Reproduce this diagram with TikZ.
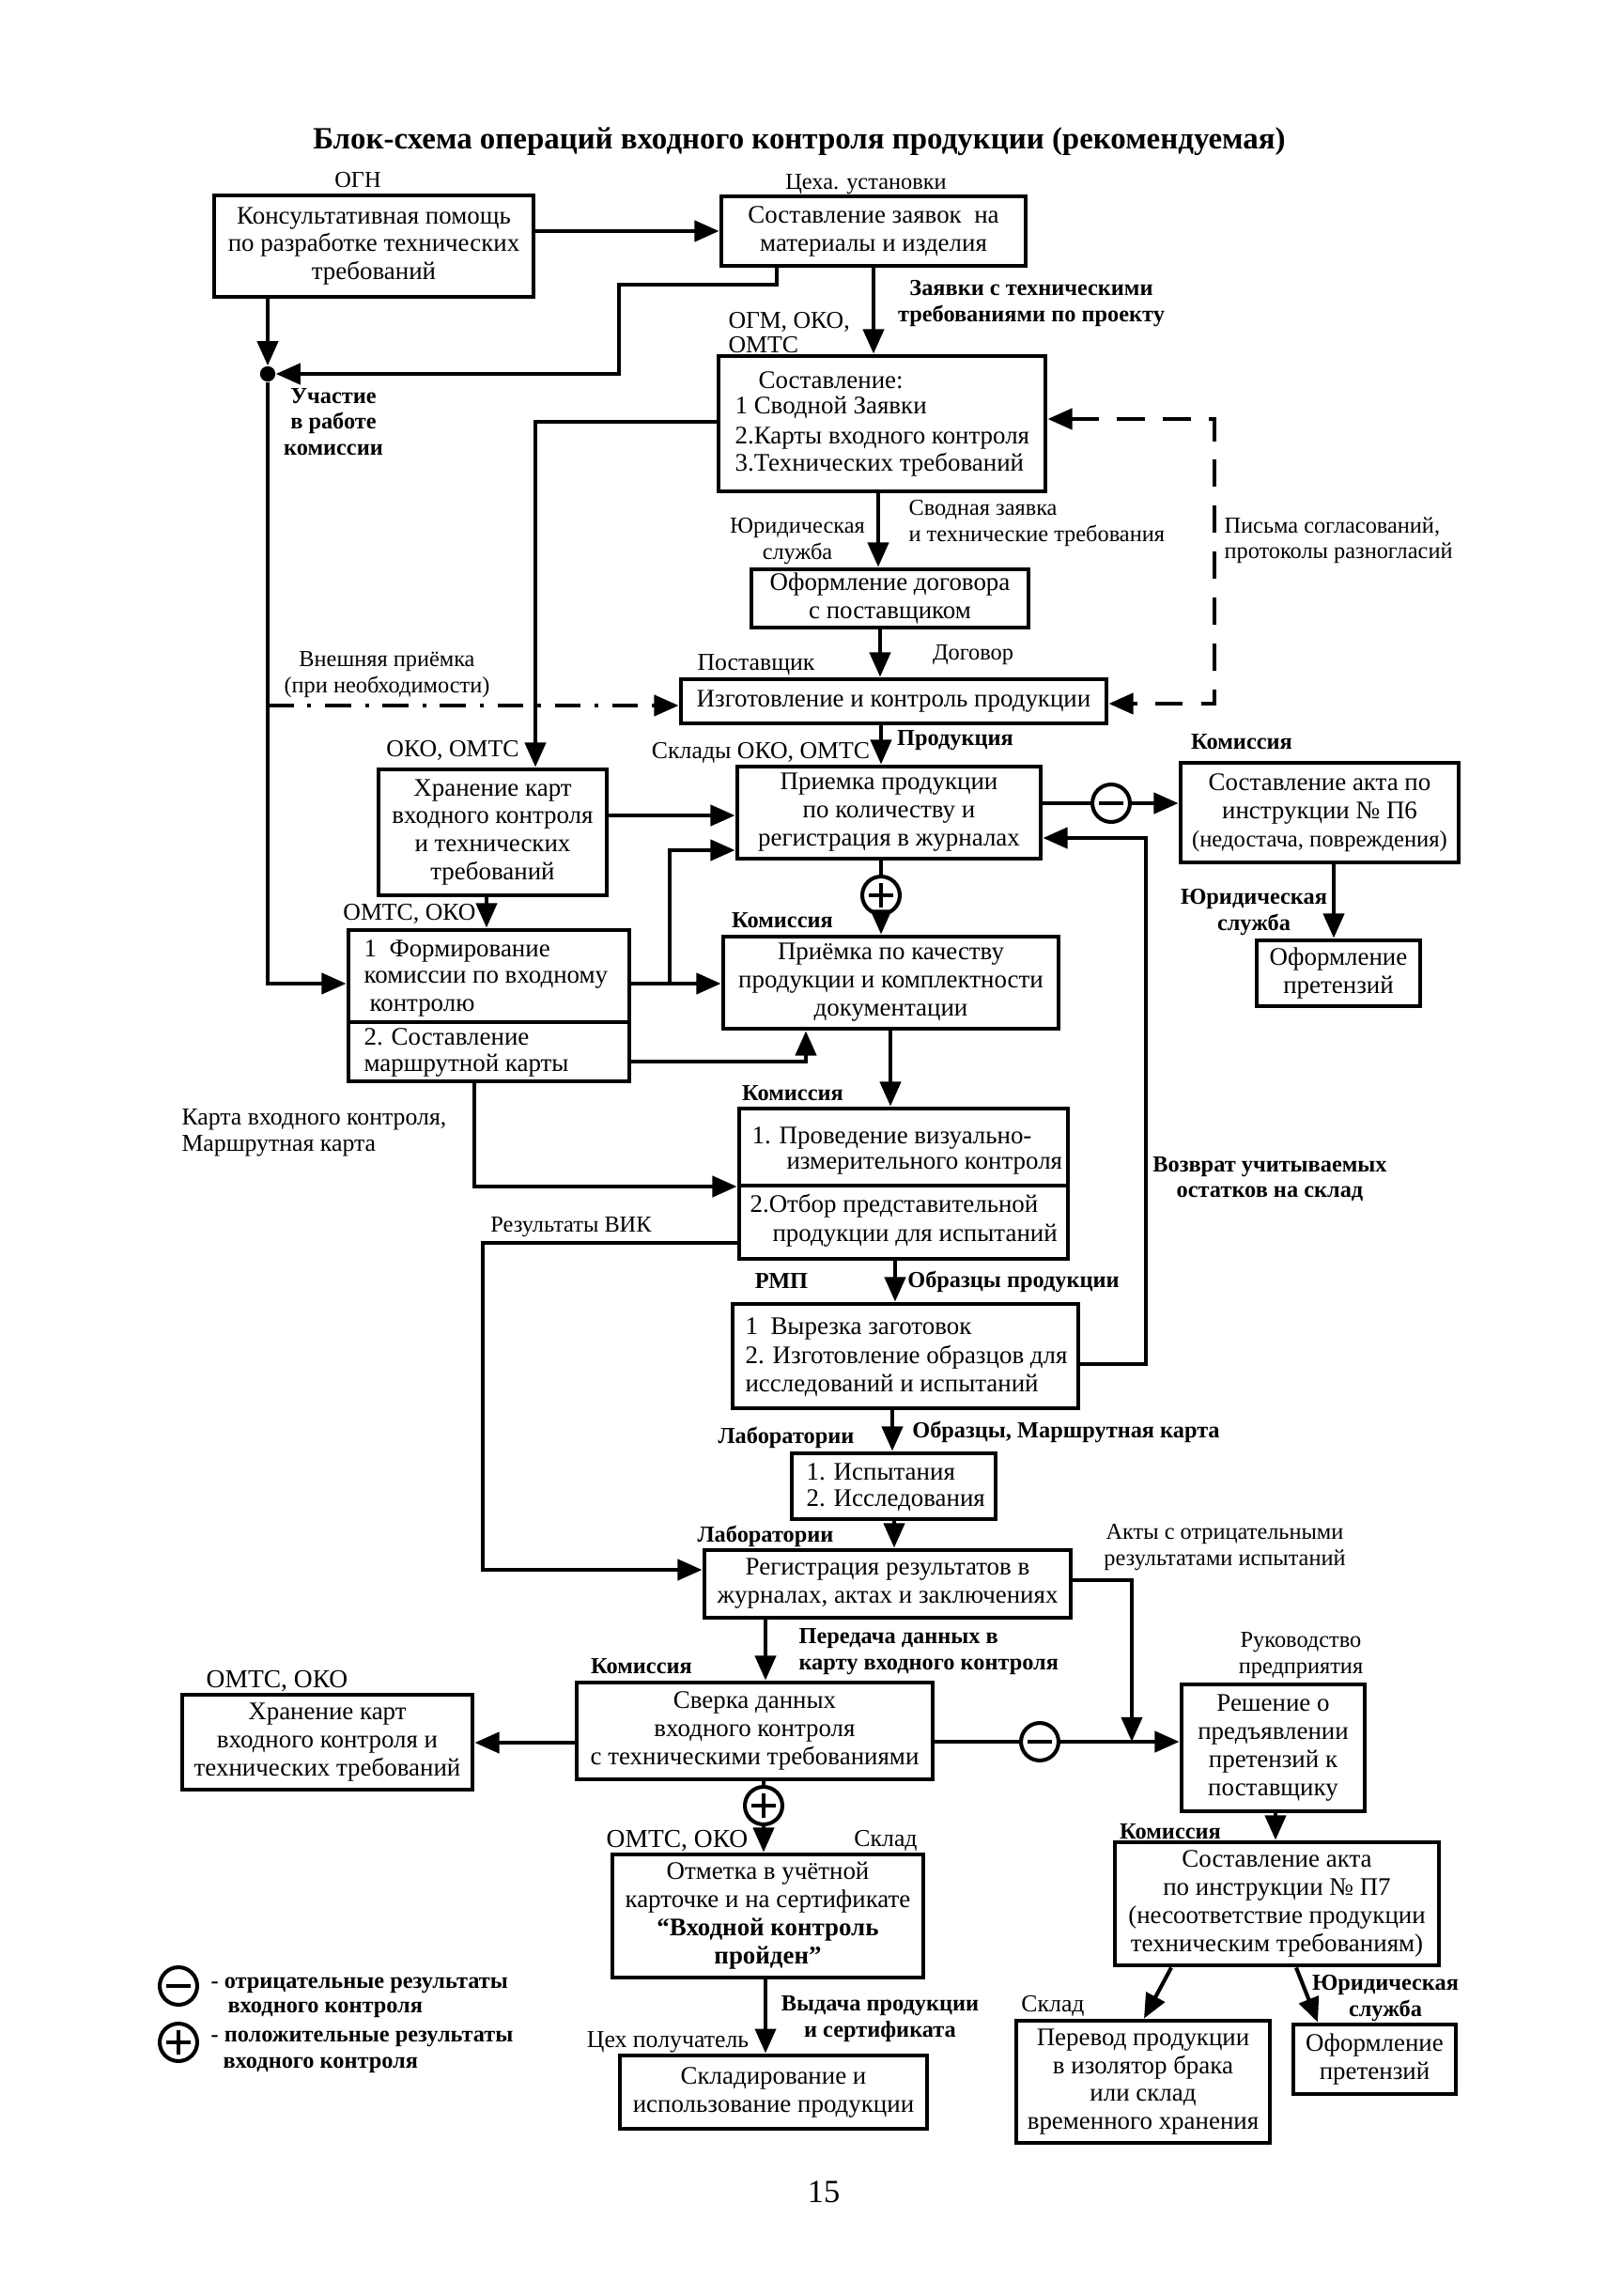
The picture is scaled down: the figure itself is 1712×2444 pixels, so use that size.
\documentclass[tikz,border=0pt]{standalone}
\usepackage{fontspec}
\setmainfont{Liberation Serif}
\usetikzlibrary{arrows.meta}
\newcommand{\mybx}[7][]{\node[box,#1,minimum width={(#4-#2)*0.1227mm},minimum height={(#5-#3)*0.1227mm}] (#6) at ({(#2+#4)/2},{(#3+#5)/2}) {#7};}
\tikzset{
  box/.style={draw, line width=0.6mm, inner sep=0pt, align=center, font=\fontsize{9.4}{10.45}\selectfont},
  ln/.style={line width=0.5mm},
  arr/.style={line width=0.5mm, -{Triangle[length=3.2mm,width=2.7mm]}},
  dsh/.style={line width=0.5mm, dash pattern=on 3.6mm off 2.4mm, {Triangle[length=3.2mm,width=2.7mm]}-{Triangle[length=3.2mm,width=2.7mm]}},
  dshdot/.style={line width=0.5mm, dash pattern=on 3.4mm off 1.8mm on 0.5mm off 1.8mm, -{Triangle[length=3.2mm,width=2.7mm]}},
  lbl/.style={inner sep=0pt, align=center, font=\fontsize{8.5}{9.6}\selectfont},
  lblb/.style={inner sep=0pt, align=center, font=\fontsize{8.5}{9.6}\selectfont\bfseries},
  org/.style={inner sep=0pt, align=left, font=\fontsize{9}{9.6}\selectfont},
  orgL/.style={inner sep=0pt, align=left, font=\fontsize{9.6}{10.4}\selectfont},
  txt/.style={inner sep=0pt, anchor=west, font=\fontsize{9.4}{10.45}\selectfont},
  minusc/.style={circle, draw, line width=0.5mm, minimum size=4.9mm, inner sep=0pt,
    path picture={\draw[line width=0.6mm] ([xshift=-1.6mm]path picture bounding box.center) -- ([xshift=1.6mm]path picture bounding box.center);}},
  plusc/.style={circle, draw, line width=0.5mm, minimum size=4.9mm, inner sep=0pt,
    path picture={\draw[line width=0.6mm] ([xshift=-1.6mm]path picture bounding box.center) -- ([xshift=1.6mm]path picture bounding box.center);
      \draw[line width=0.6mm] ([yshift=-1.6mm]path picture bounding box.center) -- ([yshift=1.6mm]path picture bounding box.center);}},
  dotn/.style={circle, fill, inner sep=0pt, minimum size=2mm}
}
\begin{document}
\begin{tikzpicture}[x=0.1227mm,y=-0.1227mm]
\fill[white] (0,0) rectangle (1712,2444);
\useasboundingbox (0,0) rectangle (1712,2444);

% title
\node[font=\fontsize{11.5}{13}\selectfont\bfseries, inner sep=0pt] (title) at (851,151) {Блок-схема операций входного контроля продукции (рекомендуемая)};

% boxes
\mybx{228}{208}{568}{316}{ogn}{Консультативная помощь\\по разработке технических\\требований}
\mybx{768}{209}{1092}{283}{ceh}{Составление заявок \ на\\материалы и изделия}
\mybx{765}{379}{1113}{523}{sost}{}
\node[txt] (s0) at (807,405) {Составление:};
\node[txt] (s1) at (782,434) {1 Сводной Заявки};
\node[txt] (s2) at (782,466) {2.Карты входного контроля};
\node[txt] (s3) at (782,495) {3.Технических требований};
\mybx{800}{606}{1095}{668}{dog}{Оформление договора\\с поставщиком}
\mybx{725}{723}{1178}{770}{izg}{Изготовление и контроль продукции}
\mybx{785}{816}{1108}{914}{priem}{Приемка продукции\\по количеству и\\регистрация в журналах}
\mybx{1257}{812}{1553}{918}{aktA}{Составление акта по\\инструкции № П6\\{\fontsize{8.6}{10}\selectfont(недостача, повреждения)}}
\mybx{1338}{1001}{1512}{1071}{pretA}{Оформление\\претензий}
\mybx{403}{819}{646}{953}{hranA}{Хранение карт\\входного контроля\\и технических\\требований}
\mybx{371}{990}{670}{1151}{fk}{}
\draw[line width=0.6mm] (fk.west |- 0,1088) -- (fk.east |- 0,1088);
\node[txt] (f1) at (387,1012) {1\ \ Формирование};
\node[txt] (f2) at (387,1043) {комиссии по входному};
\node[txt] (f3) at (393,1073) {контролю};
\node[txt] (f4) at (387,1104) {2. Составление};
\node[txt] (f5) at (387,1134) {маршрутной карты};
\mybx{770}{997}{1127}{1095}{pk}{Приёмка по качеству\\продукции и комплектности\\документации}
\mybx{787}{1180}{1137}{1340}{vik}{}
\draw[line width=0.6mm] (vik.west |- 0,1262) -- (vik.east |- 0,1262);
\node[txt] (v1) at (800,1212) {1. Проведение визуально-};
\node[txt] (v2) at (837,1241) {измерительного контроля};
\node[txt] (v3) at (798,1284) {2.Отбор представительной};
\node[txt] (v4) at (822,1315) {продукции для испытаний};
\mybx{780}{1388}{1148}{1499}{vyr}{}
\node[txt] (y1) at (793,1414) {1\ \ Вырезка заготовок};
\node[txt] (y2) at (793,1445) {2. Изготовление образцов для};
\node[txt] (y3) at (793,1475) {исследований и испытаний};
\mybx{843}{1547}{1060}{1617}{isp}{}
\node[txt] (i1) at (858,1567) {1. Испытания};
\node[txt] (i2) at (858,1597) {2. Исследования};
\mybx{750}{1650}{1140}{1722}{reg}{Регистрация результатов в\\журналах, актах и заключениях}
\mybx{614}{1791}{993}{1894}{sver}{Сверка данных\\входного контроля\\с техническими требованиями}
\mybx{194}{1804}{503}{1905}{hranB}{Хранение карт\\входного контроля и\\технических требований}
\mybx{1258}{1793}{1453}{1928}{resh}{Решение о\\предъявлении\\претензий к\\поставщику}
\mybx{652}{1974}{983}{2105}{otm}{Отметка в учётной\\карточке и на сертификате\\\textbf{“Входной контроль}\\\textbf{пройден”}}
\mybx{660}{2188}{987}{2266}{skl}{Складирование и\\использование продукции}
\mybx{1187}{1961}{1532}{2092}{aktB}{Составление акта\\по инструкции № П7\\(несоответствие продукции\\техническим требованиям)}
\mybx{1082}{2151}{1352}{2281}{perev}{Перевод продукции\\в изолятор брака\\или склад\\временного хранения}
\mybx{1377}{2155}{1550}{2229}{pretB}{Оформление\\претензий}

% circles
\node[minusc] (m1) at (1183,855) {};
\node[plusc] (p1) at (938,953) {};
\node[minusc] (m2) at (1107,1854) {};
\node[plusc] (p2) at (813,1922) {};
\node[minusc] (lm) at (190,2114) {};
\node[plusc] (lp) at (190,2174) {};
\node[dotn] (dot) at (285,398) {};

% connectors
\draw[arr] (ogn.east |- 0,246) -- (ceh.west |- 0,246);
\draw[arr] (ceh.south -| 827,0) -- (827,303) -- (659,303) -- (659,398) -- (dot);
\draw[arr] (ogn.south -| 285,0) -- (dot);
\draw[arr] (dot) -- (285,1047) -- (fk.west |- 0,1047);
\draw[dshdot] (285,751) -- (izg.west |- 0,751);
\draw[arr] (ceh.south) -- (sost.north -| ceh.south);
\draw[arr] (sost.west |- 0,449) -- (570,449) -- (hranA.north -| 570,0);
\draw[arr] (sost.south -| 935,0) -- (dog.north -| 935,0);
\draw[arr] (dog.south -| 937,0) -- (izg.north -| 937,0);
\draw[arr] (izg.south -| 938,0) -- (priem.north -| 938,0);
\draw[dsh] (sost.east |- 0,446) -- (1293,446) -- (1293,749) -- (izg.east |- 0,749);
\draw[arr] (hranA.east |- 0,868) -- (priem.west |- 0,868);
\draw[arr] (fk.east |- 0,1047) -- (pk.west |- 0,1047);
\draw[arr] (713,1047) -- (713,905) -- (priem.west |- 0,905);
\draw[arr] (fk.east |- 0,1130) -- (858,1130) -- (pk.south -| 858,0);
\draw[arr] (hranA.south -| 518,0) -- (fk.north -| 518,0);
\draw[ln] (priem.south -| p1) -- (p1);
\draw[arr] (p1) -- (pk.north -| p1);
\draw[ln] (priem.east |- m1) -- (m1);
\draw[arr] (m1) -- (aktA.west |- m1);
\draw[arr] (aktA.south -| 1420,0) -- (pretA.north -| 1420,0);
\draw[arr] (pk.south -| 948,0) -- (vik.north -| 948,0);
\draw[arr] (fk.south -| 505,0) -- (505,1263) -- (vik.west |- 0,1263);
\draw[arr] (vik.west |- 0,1323) -- (514,1323) -- (514,1671) -- (reg.west |- 0,1671);
\draw[arr] (vik.south -| 953,0) -- (vyr.north -| 953,0);
\draw[arr] (vyr.east |- 0,1452) -- (1220,1452) -- (1220,892) -- (priem.east |- 0,892);
\draw[arr] (vyr.south -| 950,0) -- (isp.north -| 950,0);
\draw[arr] (isp.south -| 952,0) -- (reg.north -| 952,0);
\draw[arr] (reg.east |- 0,1682) -- (1205,1682) -- (1205,1854);
\draw[arr] (reg.south -| 815,0) -- (sver.north -| 815,0);
\draw[arr] (sver.west |- 0,1855) -- (hranB.east |- 0,1855);
\draw[ln] (sver.east |- m2) -- (m2);
\draw[arr] (m2) -- (resh.west |- m2);
\draw[ln] (sver.south -| p2) -- (p2);
\draw[arr] (p2) -- (otm.north -| p2);
\draw[arr] (otm.south -| 815,0) -- (skl.north -| 815,0);
\draw[arr] (resh.south -| 1358,0) -- (aktB.north -| 1358,0);
\draw[arr] (aktB.south -| 1247,0) -- (perev.north -| 1218,0);
\draw[arr] (aktB.south -| 1380,0) -- (pretB.north -| 1403,0);

% labels
\node[lbl] (l1) at (381,192) {ОГН};
\node[lbl] (l2) at (922,196) {Цеха. установки};
\node[lblb] (l3) at (1098,323) {Заявки с техническими\\требованиями по проекту};
\node[org, anchor=west, font=\fontsize{9}{8.8}\selectfont] (l4) at (775,354) {ОГМ, ОКО,\\ОМТС};
\node[lblb] (l5) at (355,449) {Участие\\в работе\\комиссии};
\node[lbl] (l6) at (849,576) {Юридическая\\служба};
\node[lbl, anchor=west, align=left] (l7) at (967,557) {Сводная заявка\\и технические требования};
\node[lbl, anchor=west, align=left] (l8) at (1303,575) {Письма согласований,\\протоколы разногласий};
\node[lbl] (l9) at (1036,697) {Договор};
\node[org] (l10) at (805,708) {Поставщик};
\node[lbl] (l11) at (412,718) {Внешняя приёмка\\(при необходимости)};
\node[lblb] (l12) at (1017,788) {Продукция};
\node[org] (l13) at (810,801) {Склады ОКО, ОМТС};
\node[org] (l14) at (482,799) {ОКО, ОМТС};
\node[lblb] (l15) at (1322,790) {Комиссия};
\node[lblb] (l16) at (1335,971) {Юридическая\\служба};
\node[org] (l17) at (436,973) {ОМТС, ОКО};
\node[lblb] (l18) at (833,980) {Комиссия};
\node[lblb] (l19) at (844,1164) {Комиссия};
\node[org, anchor=west] (l20) at (193,1206) {Карта входного контроля,\\Маршрутная карта};
\node[lblb] (l21) at (1352,1255) {Возврат учитываемых\\остатков на склад};
\node[lbl] (l22) at (608,1306) {Результаты ВИК};
\node[lblb] (l23) at (832,1364) {РМП};
\node[lblb] (l24) at (1079,1364) {Образцы продукции};
\node[lblb] (l25) at (837,1530) {Лаборатории};
\node[lblb] (l26) at (1135,1524) {Образцы, Маршрутная карта};
\node[lblb] (l27) at (815,1635) {Лаборатории};
\node[lbl] (l28) at (1304,1647) {Акты с отрицательными\\результатами испытаний};
\node[lblb, anchor=west, align=left] (l29) at (850,1758) {Передача данных в\\карту входного контроля};
\node[lblb] (l30) at (683,1774) {Комиссия};
\node[lbl] (l31) at (1385,1762) {Руководство\\предприятия};
\node[orgL] (l32) at (295,1789) {ОМТС, ОКО};
\node[lblb] (l33) at (1246,1950) {Комиссия};
\node[orgL] (l34) at (721,1959) {ОМТС, ОКО};
\node[org] (l35) at (943,1959) {Склад};
\node[lblb] (l36) at (937,2149) {Выдача продукции\\и сертификата};
\node[org] (l37) at (711,2174) {Цех получатель};
\node[org] (l38) at (1121,2135) {Склад};
\node[lblb] (l39) at (1475,2127) {Юридическая\\служба};

% legend
\node[lblb, anchor=west] (g1) at (224,2113) {- отрицательные результаты};
\node[lblb, anchor=west] (g2) at (242,2139) {входного контроля};
\node[lblb, anchor=west] (g3) at (224,2170) {- положительные результаты};
\node[lblb, anchor=west] (g4) at (237,2198) {входного контроля};

\node[font=\fontsize{12}{14}\selectfont, inner sep=0pt] (pg) at (877,2333) {15};
\end{tikzpicture}
\end{document}
